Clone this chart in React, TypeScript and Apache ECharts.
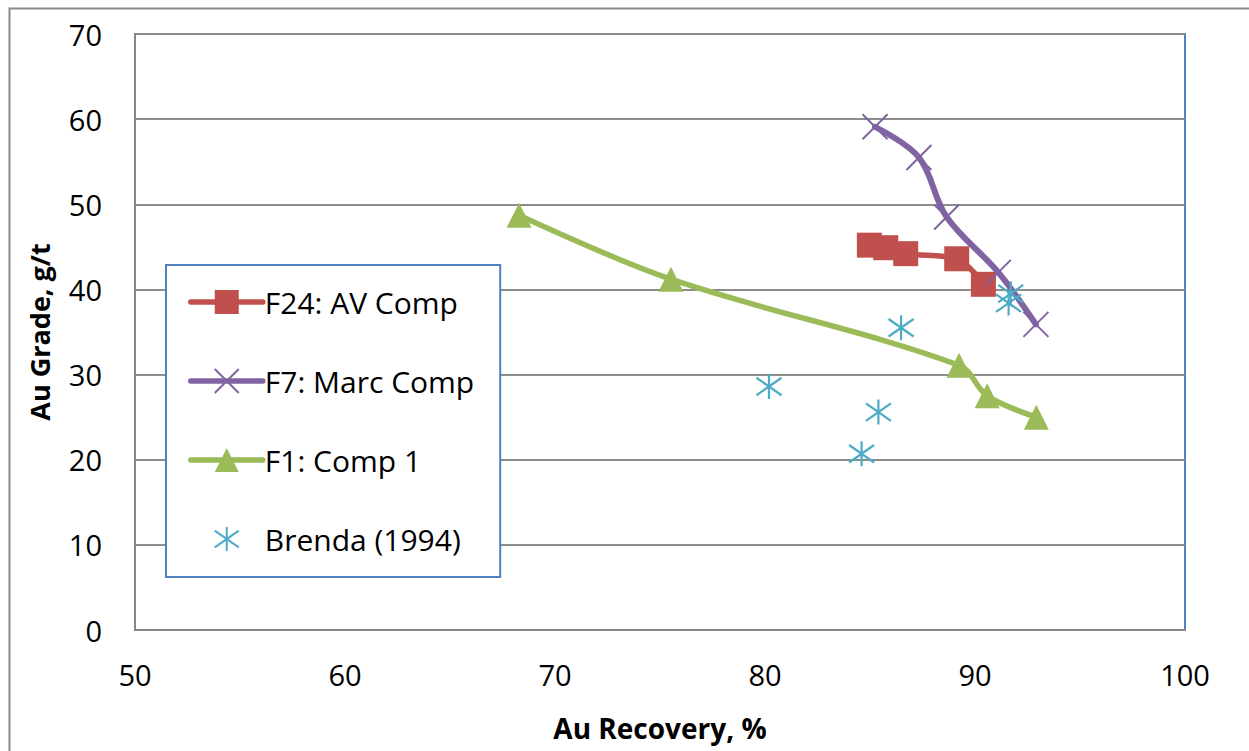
import React, { useEffect, useRef } from "react";
import * as echarts from "echarts";

const F24_X = [84.97, 85.75, 86.7, 89.13, 90.4];
const F24_Y = [45.2, 44.9, 44.2, 43.6, 40.6];
const F7_X = [85.24, 87.33, 88.65, 91.11, 92.9];
const F7_Y = [59.1, 55.5, 48.5, 42.0, 35.9];
const F1_X = [68.29, 75.52, 89.24, 90.58, 92.92];
const F1_Y = [48.7, 41.2, 31.1, 27.5, 25.0];
const BRENDA_X = [80.19, 84.6, 85.4, 86.48, 91.6, 91.7];
const BRENDA_Y = [28.6, 20.7, 25.6, 35.5, 38.4, 39.5];

const SERIES_NAMES = ["F24: AV Comp", "F7: Marc Comp", "F1: Comp 1", "Brenda (1994)"];
const X_TITLE = "Au Recovery, %";
const Y_TITLE = "Au Grade, g/t";

const pairs = (xs: number[], ys: number[]) => xs.map((x, i) => [x, ys[i]]);

const FONT = "'Open Sans', 'Liberation Sans', sans-serif";
const CROSS = "path://M0,0L10,10M10,0L0,10";
const STAR = "path://M1,1.5L9,8.5M9,1.5L1,8.5M5,0L5,10";

export default function App() {
  const ref = useRef<HTMLDivElement>(null);
  useEffect(() => {
    if (!ref.current) return;
    const chart = echarts.init(ref.current, undefined, { renderer: "svg" });
    chart.setOption({
      animation: false,
      backgroundColor: "#ffffff",
      textStyle: { fontFamily: FONT },
      graphic: [
        {
          type: "rect",
          left: 7,
          top: 6,
          shape: { width: 1300, height: 800 },
          style: { fill: "none", stroke: "#8a8a8a", lineWidth: 2 },
          z: -1,
        },
      ],
      grid: {
        left: 135,
        right: 64,
        top: 34,
        bottom: 121,
        show: true,
        borderColor: "#4F81BD",
        borderWidth: 2,
        backgroundColor: "transparent",
      },
      legend: {
        orient: "vertical",
        left: 166,
        top: 265,
        padding: [22, 26, 23, 22],
        itemWidth: 72,
        itemHeight: 30,
        itemGap: 49,
        backgroundColor: "#ffffff",
        borderColor: "#4F81BD",
        borderWidth: 2,
        borderRadius: 0,
        textStyle: { fontFamily: FONT, fontSize: 30, color: "#000", padding: [0, 0, 0, -3] },
        data: [
          { name: SERIES_NAMES[0], lineStyle: { width: 5.5, cap: "round" } },
          { name: SERIES_NAMES[1], lineStyle: { width: 5.5, cap: "round" } },
          { name: SERIES_NAMES[2], lineStyle: { width: 5.5, cap: "round" } },
          { name: SERIES_NAMES[3] },
        ],
      },
      xAxis: {
        type: "value",
        min: 50,
        max: 100,
        interval: 10,
        name: X_TITLE,
        nameLocation: "middle",
        nameGap: 84,
        nameTextStyle: { fontFamily: FONT, fontSize: 28, fontWeight: "bold", color: "#000" },
        axisLine: { show: true, lineStyle: { color: "#868686", width: 2 } },
        axisTick: { show: false },
        splitLine: { show: false },
        axisLabel: { fontFamily: FONT, fontSize: 29, color: "#000", margin: 30 },
      },
      yAxis: {
        type: "value",
        min: 0,
        max: 70,
        interval: 10,
        name: Y_TITLE,
        nameLocation: "middle",
        nameGap: 82,
        nameRotate: 90,
        nameTextStyle: { fontFamily: FONT, fontSize: 27, fontWeight: "bold", color: "#000" },
        axisLine: { show: true, lineStyle: { color: "#868686", width: 2 } },
        axisTick: { show: false },
        splitLine: { show: true, lineStyle: { color: "#8c8c8c", width: 2 } },
        axisLabel: { fontFamily: FONT, fontSize: 29, color: "#000", margin: 33 },
      },
      series: [
        {
          name: SERIES_NAMES[0],
          type: "line",
          smooth: 0.35,
          data: pairs(F24_X, F24_Y),
          color: "#C0504D",
          symbol: "rect",
          symbolSize: 25,
          showAllSymbol: true,
          lineStyle: { width: 5.5, color: "#C0504D", cap: "round" },
          itemStyle: { color: "#C0504D" },
          z: 2,
        },
        {
          name: SERIES_NAMES[1],
          type: "line",
          smooth: 0.35,
          data: pairs(F7_X, F7_Y),
          color: "#8064A2",
          symbol: CROSS,
          symbolSize: 25,
          showAllSymbol: true,
          lineStyle: { width: 6, color: "#8064A2", cap: "round" },
          itemStyle: { color: "#8064A2", borderColor: "#8064A2", borderWidth: 2 },
          z: 3,
        },
        {
          name: SERIES_NAMES[2],
          type: "line",
          smooth: 0.35,
          data: pairs(F1_X, F1_Y),
          color: "#9BBB59",
          symbol: "triangle",
          symbolSize: 25,
          showAllSymbol: true,
          lineStyle: { width: 5.5, color: "#9BBB59", cap: "round" },
          itemStyle: { color: "#9BBB59" },
          z: 4,
        },
        {
          name: SERIES_NAMES[3],
          type: "line",
          data: pairs(BRENDA_X, BRENDA_Y),
          color: "#4BACC6",
          symbol: STAR,
          symbolSize: 25,
          showAllSymbol: true,
          lineStyle: { width: 0, opacity: 0 },
          itemStyle: { color: "#4BACC6", borderColor: "#4BACC6", borderWidth: 2.2 },
          z: 5,
        },
      ],
    });
    return () => chart.dispose();
  }, []);
  return (
    <div
      ref={ref}
      style={{ position: "fixed", left: 0, top: 0, width: 1249, height: 751, background: "#fff" }}
    />
  );
}
